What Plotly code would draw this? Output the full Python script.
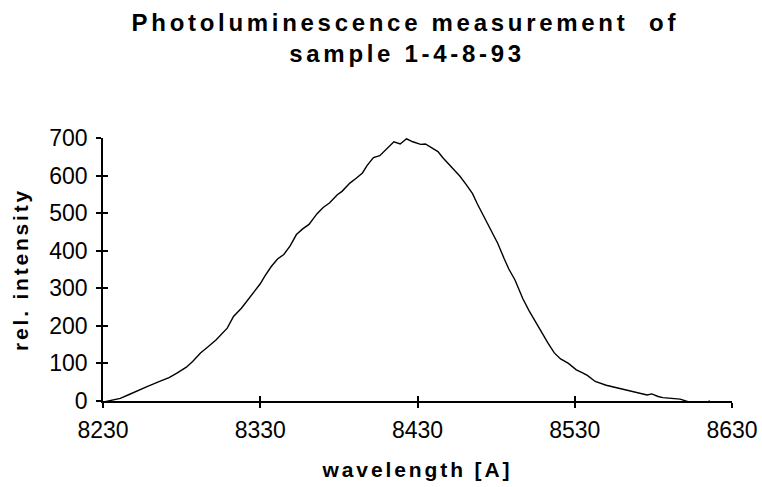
import plotly.graph_objects as go

# Photoluminescence spectrum of sample 1-4-8-93
wavelength = [
    8230, 8236, 8241, 8247, 8252, 8258, 8266, 8272, 8277, 8283,
    8287, 8292, 8297, 8302, 8309, 8313, 8318, 8324, 8330, 8333,
    8337, 8341, 8345, 8349, 8353, 8357, 8361, 8366, 8370, 8374,
    8379, 8382, 8387, 8391, 8395, 8398, 8402, 8406, 8410, 8415,
    8419, 8423, 8427, 8432, 8435, 8439, 8443, 8446, 8449, 8453,
    8457, 8461, 8465, 8468, 8472, 8476, 8481, 8485, 8488, 8492,
    8497, 8501, 8505, 8509, 8513, 8517, 8521, 8526, 8531, 8535,
    8538, 8543, 8547, 8550, 8556, 8561, 8565, 8569, 8576, 8579,
    8583, 8586, 8592, 8597, 8603, 8608, 8612, 8616,
]
intensity = [
    -3, 3, 7, 18, 28, 38, 52, 62, 74, 90,
    105, 128, 145, 163, 194, 225, 247, 280, 312, 333,
    358, 378, 390, 413, 443, 458, 470, 498, 515, 527,
    549, 558, 580, 593, 607, 627, 648, 653, 670, 690,
    684, 698, 690, 683, 684, 675, 664, 648, 634, 617,
    598, 576, 552, 525, 492, 462, 420, 380, 352, 322,
    272, 240, 210, 182, 154, 128, 112, 100, 83, 75,
    68, 52, 46, 42, 36, 31, 25, 22, 16, 19,
    12, 9, 7, 5, -3, -5, -5, 0,
]

x_ticks = [8230, 8330, 8430, 8530, 8630]
y_ticks = [0, 100, 200, 300, 400, 500, 600, 700]

title_lines = ["Photoluminescence measurement  of", "sample 1-4-8-93"]
x_title = "wavelength [A]"
y_title = "rel. intensity"

FONT = "Liberation Sans, Arial, sans-serif"

fig = go.Figure()
fig.add_trace(go.Scatter(
    x=wavelength, y=intensity, mode="lines",
    line=dict(color="black", width=1.4),
    showlegend=False, hoverinfo="skip",
))
# empty trace so the overlay axes (inner half of crossing ticks) get drawn
fig.add_trace(go.Scatter(x=[], y=[], xaxis="x2", yaxis="y2", showlegend=False))

axis_common = dict(showgrid=False, zeroline=False, automargin=False)

fig.update_layout(
    width=762, height=487,
    margin=dict(l=103, r=30, t=138, b=86, autoexpand=False),
    paper_bgcolor="white", plot_bgcolor="white",
    font=dict(family=FONT, color="black"),
    title=dict(
        text="<b>%s</b>" % title_lines[0],
        font=dict(size=24, family=FONT, color="black"),
        x=0.532, xanchor="center", xref="container",
        y=1 - 31 / 487, yanchor="bottom", yref="container",
        pad=dict(t=0, b=0, l=0, r=0),
    ),
    annotations=[dict(
        text="<b>%s</b>" % title_lines[1],
        xref="paper", yref="paper",
        x=(407 - 103) / (732 - 103), y=1 + (138 - 69) / (401 - 138),
        xanchor="center", yanchor="bottom", showarrow=False,
        font=dict(size=24, family=FONT, color="black"),
    )],
    xaxis=dict(
        range=[8230, 8630], tickvals=x_ticks, ticktext=[str(v) for v in x_ticks],
        showline=True, linecolor="black", linewidth=1.6,
        ticks="outside", ticklen=5, tickwidth=1.6, tickcolor="black",
        tickfont=dict(size=23, family=FONT, color="black"),
        ticklabelstandoff=3,
        title=dict(text="<b>%s</b>" % x_title, font=dict(size=21, family=FONT, color="black"), standoff=20),
        **axis_common,
    ),
    yaxis=dict(
        range=[0, 700], tickvals=y_ticks,
        showline=True, linecolor="black", linewidth=1.6,
        ticks="outside", ticklen=5, tickwidth=1.6, tickcolor="black",
        tickfont=dict(size=23, family=FONT, color="black"),
        ticklabelstandoff=4,
        title=dict(text="<b>%s</b>" % y_title, font=dict(size=21, family=FONT, color="black"), standoff=15),
        **axis_common,
    ),
    xaxis2=dict(
        range=[8230, 8630], tickvals=x_ticks, overlaying="x", anchor="y", side="bottom",
        showline=False, showticklabels=False,
        ticks="inside", ticklen=5, tickwidth=1.6, tickcolor="black",
        **axis_common,
    ),
    yaxis2=dict(
        range=[0, 700], tickvals=y_ticks, overlaying="y", anchor="x", side="left",
        showline=False, showticklabels=False,
        ticks="inside", ticklen=5, tickwidth=1.6, tickcolor="black",
        **axis_common,
    ),
)

# widen the letter spacing of the bold title and axis titles
spacing_js = """
var gd = document.getElementById('{plot_id}');
function spread(sel, v) {
  gd.querySelectorAll(sel).forEach(function (t) { t.style.letterSpacing = v; });
}
spread('.gtitle', '3.7px');
spread('.annotation-text', '3.7px');
spread('.xtitle', '2.9px');
spread('.ytitle', '2.8px');
"""

fig.write_html("out.html", post_script=spacing_js)
